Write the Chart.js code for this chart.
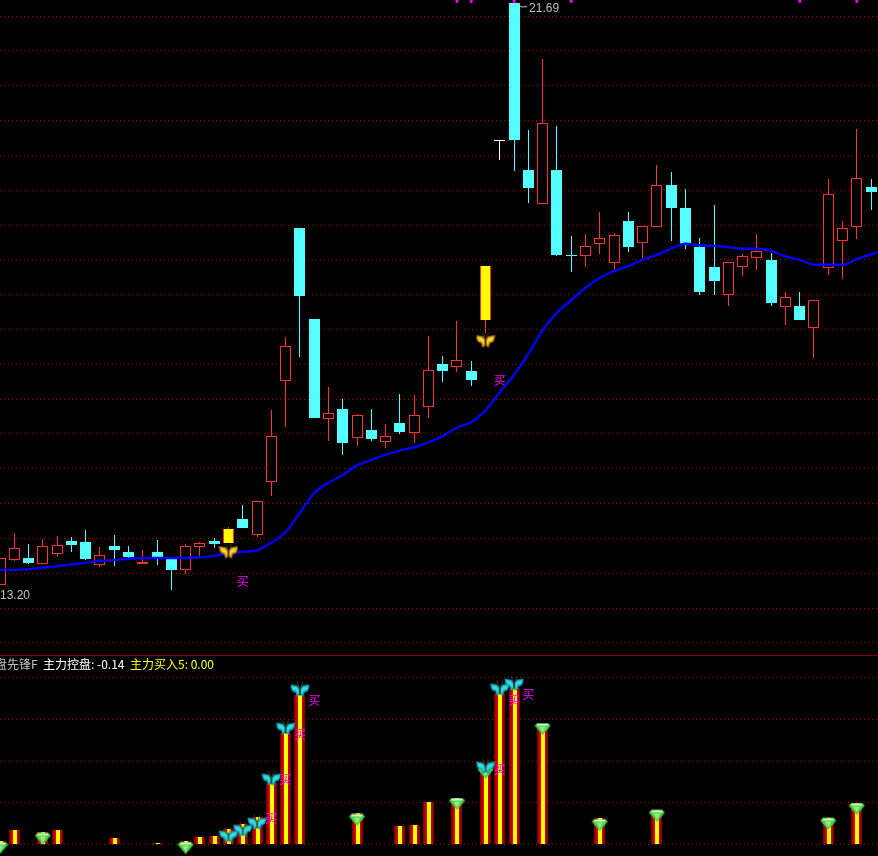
<!DOCTYPE html>
<html>
<head>
<meta charset="utf-8">
<title>主力控盘</title>
<script src="https://cdn.jsdelivr.net/npm/chart.js@4"></script>
<style>
  html, body { margin: 0; background: #000; overflow: hidden; }
  #wrap { position: relative; width: 878px; height: 856px; overflow: hidden; }
  canvas { position: absolute; left: 0; }
  #kline { top: 0; }
  #sub { top: 655px; }
  #sep { position: absolute; left: 0; top: 655px; width: 878px; height: 1px; background: #8c0000; }
</style>
</head>
<body>
<div id="wrap">
  <canvas id="kline" width="878" height="655"></canvas>
  <canvas id="sub" width="878" height="201"></canvas>
  <div id="sep"></div>
</div>
<script>
const opens = [13.33,13.69,13.72,13.63,13.78,13.96,13.95,13.62,13.89,13.81,13.63,13.81,13.71,13.55,13.88,13.96,13.94,14.28,14.05,14.81,16.26,18.46,17.15,15.72,15.86,15.44,15.56,15.38,15.66,15.51,15.89,16.50,16.46,16.40,17.14,19.71,21.69,19.29,18.80,19.29,18.06,18.05,18.23,17.95,18.56,18.24,18.47,19.07,18.74,18.18,17.90,17.50,17.90,18.03,18.00,17.32,17.34,17.02,17.88,18.27,18.47,19.05];
const highs = [13.72,14.08,13.92,13.99,14.04,14.02,14.12,13.88,14.05,13.89,13.83,13.98,13.71,13.92,13.95,14.01,14.17,14.48,14.54,15.84,16.89,18.46,17.15,16.17,16.00,15.79,15.86,15.64,16.07,16.06,16.91,16.62,17.12,16.55,17.91,19.71,21.69,19.86,20.88,19.92,18.34,18.37,18.69,18.39,18.69,18.49,19.36,19.26,19.02,18.31,18.79,17.97,18.08,18.37,18.10,17.54,17.54,17.42,19.16,18.56,19.88,19.16];
const lows = [13.33,13.68,13.63,13.63,13.73,13.81,13.69,13.59,13.60,13.72,13.63,13.62,13.26,13.49,13.75,13.86,13.94,14.15,14.02,14.61,15.60,16.60,15.73,15.40,15.20,15.33,15.40,15.30,15.50,15.37,15.73,16.25,16.39,16.19,16.95,19.43,19.27,18.82,18.80,18.05,17.83,17.90,18.08,17.85,18.11,18.03,18.47,18.27,18.16,17.50,17.50,17.34,17.77,17.85,17.34,17.06,17.14,16.59,17.78,17.72,18.30,18.72];
const closes = [13.72,13.86,13.65,13.89,13.91,13.91,13.71,13.76,13.83,13.73,13.66,13.72,13.55,13.89,13.94,13.92,14.14,14.15,14.54,15.47,16.76,17.48,15.73,15.80,15.37,15.77,15.43,15.47,15.53,15.77,16.42,16.40,16.56,16.27,17.91,19.71,19.72,19.03,19.96,18.07,18.05,18.20,18.31,18.36,18.18,18.49,19.07,18.74,18.21,17.54,17.70,17.97,18.05,18.13,17.38,17.47,17.14,17.42,18.95,18.46,19.17,18.97];
const maLine = [13.55,13.55,13.56,13.58,13.60,13.63,13.65,13.68,13.69,13.71,13.72,13.72,13.72,13.72,13.73,13.75,13.79,13.81,13.83,13.94,14.09,14.37,14.65,14.80,14.91,15.05,15.13,15.20,15.26,15.31,15.38,15.47,15.59,15.67,15.84,16.10,16.35,16.65,16.99,17.24,17.42,17.60,17.74,17.84,17.91,18.00,18.07,18.16,18.23,18.21,18.20,18.18,18.16,18.16,18.13,18.05,18.00,17.93,17.93,17.93,18.01,18.08,18.14];
const priceTicks = [12.5,13,13.5,14,14.5,15,15.5,16,16.5,17,17.5,18,18.5,19,19.5,20,20.5,21,21.5];
const yellowDays = [16,34];
const goldFlyDays = [16,34];
const goldFlyPrices = [13.81,16.84];
const topMarkDays = [32,33,36,40,56,60];
const buyDays = [17,35];
const buyPrices = [13.38,16.27];

const subDays = [0,1,3,4,8,11,13,14,15,16,17,18,19,20,21,25,28,29,30,32,34,35,36,38,42,46,58,60];
const subValues = [2.4,8.9,7.7,8.9,4.2,1.2,2.4,4.8,5.4,9.5,12.5,16.7,36.9,66.7,89.3,19.0,11.3,11.9,25.6,28.0,44.6,90.5,93.5,70.2,16.1,20.8,16.1,25.0];
const subTicks = [0,25,50,75,100];
const cyanFlyDays = [16,17,18,19,20,21,34,35,36];
const cyanFlyValues = [5.4,8.9,13.1,39.3,69.6,92.3,46.4,92.9,95.8];
const gemDays = [0,3,13,25,32,34,38,42,46,58,60];
const gemValues = [-1.8,3.6,-1.8,14.9,24.4,42.9,69.0,11.9,17.3,12.5,21.4];
const subBuyDays = [19,20,21,22,35,36,37];
const subBuyValues = [16.1,39.3,66.1,86.3,45.2,86.3,89.9];

const RED = "#ff3232";
const CYAN = "#54ffff";
const GRID = "#b00000";
const LAST_X = 878 / 14.28;

function bodyColor(i) {
  if (closes[i] > opens[i]) return RED;
  if (closes[i] < opens[i]) return CYAN;
  return "#ffffff";
}

function bodyFill(i) {
  if (yellowDays.includes(i)) return "#ffff00";
  return closes[i] > opens[i] ? "#000000" : bodyColor(i);
}

function makeButterfly(edge, inner) {
  const c = document.createElement("canvas");
  c.width = 20;
  c.height = 17;
  const g = c.getContext("2d");
  [1, -1].forEach((side) => {
    g.save();
    g.translate(10, 0);
    g.scale(side, 1);
    g.fillStyle = edge;
    g.beginPath();
    g.moveTo(0.3, 7);
    g.lineTo(3, 4);
    g.lineTo(9.5, 3);
    g.lineTo(9, 7);
    g.lineTo(7.5, 10);
    g.lineTo(4.5, 11);
    g.lineTo(3, 15.5);
    g.lineTo(0.3, 13.5);
    g.closePath();
    g.fill();
    g.fillStyle = inner;
    g.beginPath();
    g.moveTo(1.2, 8);
    g.lineTo(3.5, 5.5);
    g.lineTo(8, 4.5);
    g.lineTo(7, 8.5);
    g.lineTo(3.5, 9.5);
    g.lineTo(2.2, 13);
    g.lineTo(1.2, 12);
    g.closePath();
    g.fill();
    g.strokeStyle = "#4a4a30";
    g.lineWidth = 1;
    g.beginPath();
    g.moveTo(0.5, 7);
    g.lineTo(3, 0.5);
    g.stroke();
    g.restore();
  });
  g.fillStyle = "#2a2000";
  g.fillRect(9.5, 6, 1, 8);
  return c;
}

function makeGem() {
  const c = document.createElement("canvas");
  c.width = 17;
  c.height = 13;
  const g = c.getContext("2d");
  g.fillStyle = "#48d048";
  g.beginPath();
  g.moveTo(0.5, 3);
  g.lineTo(3, 0.5);
  g.lineTo(14, 0.5);
  g.lineTo(16.5, 3);
  g.lineTo(8.5, 12.5);
  g.closePath();
  g.fill();
  g.fillStyle = "#c8f8c0";
  g.fillRect(3, 1, 11, 2);
  g.fillStyle = "#90f088";
  g.beginPath();
  g.moveTo(5, 4);
  g.lineTo(12, 4);
  g.lineTo(8.5, 10);
  g.closePath();
  g.fill();
  return c;
}

// bars land on whole pixels, the way the terminal draws them
const snapBars = {
  id: "snapBars",
  afterDatasetsUpdate(chart) {
    chart.getSortedVisibleDatasetMetas().forEach((meta) => {
      if (meta.type !== "bar") return;
      meta.data.forEach((bar) => {
        bar.x = Math.floor(bar.x) + (bar.width % 2 ? 0.5 : 1);
        bar.y = Math.round(bar.y);
        bar.base = Math.round(bar.base);
        if (bar.base === bar.y) bar.base = bar.y + 1;
        bar.height = bar.base - bar.y;
      });
    });
  },
};

function buyLabels(id, days, values) {
  return {
    id: id,
    afterDatasetsDraw(chart) {
      const g = chart.ctx;
      g.save();
      g.fillStyle = "#ff00ff";
      g.font = '12px "Noto Sans CJK SC"';
      g.textAlign = "center";
      g.textBaseline = "middle";
      days.forEach((d, k) => {
        g.fillText("买", chart.scales.x.getPixelForValue(d), chart.scales.y.getPixelForValue(values[k]));
      });
      g.restore();
    },
  };
}

const priceNotes = {
  id: "priceNotes",
  afterDatasetsDraw(chart) {
    const g = chart.ctx;
    const x = chart.scales.x;
    const y = chart.scales.y;
    const hi = Math.max(...highs);
    const lo = 13.2;
    const hiX = x.getPixelForValue(highs.indexOf(hi)) + 2;
    const hiY = y.getPixelForValue(hi);
    g.save();
    g.strokeStyle = "#c0c0c0";
    g.fillStyle = "#c0c0c0";
    g.lineWidth = 1;
    g.beginPath();
    g.moveTo(hiX, hiY);
    g.lineTo(hiX + 5, hiY + 4);
    g.lineTo(hiX + 11, hiY + 4);
    g.stroke();
    g.font = '12px "Liberation Sans"';
    g.textBaseline = "middle";
    g.fillText(hi.toFixed(2), hiX + 13, hiY + 6);
    g.fillText(lo.toFixed(2), 0, 596);
    g.restore();
  },
};

const subTitle = {
  id: "subTitle",
  afterDatasetsDraw(chart) {
    const g = chart.ctx;
    g.save();
    g.font = '12px "Noto Sans CJK SC", "Liberation Sans"';
    g.textBaseline = "middle";
    g.fillStyle = "#c0c0c0";
    g.fillText("盘先锋F", -5, 9);
    g.fillStyle = "#ffffff";
    g.fillText("主力控盘: -0.14", 43, 9);
    g.fillStyle = "#ffff00";
    g.fillText("主力买入5: 0.00", 130, 9);
    g.restore();
  },
};

function paneOptions(min, max, ticks) {
  return {
    responsive: false,
    animation: false,
    devicePixelRatio: 1,
    events: [],
    layout: { padding: 0, autoPadding: false },
    plugins: { legend: { display: false }, tooltip: { enabled: false } },
    scales: {
      x: { type: "linear", min: 0, max: LAST_X, display: false, offset: false },
      y: {
        min: min,
        max: max,
        afterBuildTicks: (axis) => {
          axis.ticks = ticks.map((v) => ({ value: v }));
        },
        afterFit: (axis) => {
          axis.width = 0;
        },
        ticks: { display: false },
        grid: { color: GRID, lineWidth: 1, drawTicks: false },
        border: { display: false, dash: [1, 3] },
      },
    },
  };
}

function points(days, values) {
  return days.map((d, k) => ({ x: d, y: values[k] }));
}

const allDays = opens.map((_, i) => i);

new Chart(document.getElementById("kline"), {
  type: "bar",
  data: {
    datasets: [
      {
        type: "line",
        order: 0,
        data: points(goldFlyDays, goldFlyPrices),
        showLine: false,
        pointStyle: makeButterfly("#c08018", "#ffd830"),
        pointRadius: 9,
      },
      {
        type: "line",
        order: 0,
        data: points(topMarkDays, topMarkDays.map(() => 21.71)),
        showLine: false,
        pointStyle: "rect",
        pointRadius: 2,
        pointBackgroundColor: "#ff00ff",
        pointBorderWidth: 0,
        clip: false,
      },
      {
        type: "line",
        order: 1,
        data: maLine.map((v, i) => ({ x: i, y: v })),
        borderColor: "#0000ff",
        borderWidth: 2.4,
        pointRadius: 0,
        cubicInterpolationMode: "monotone",
      },
      {
        order: 2,
        data: allDays.map((i) => ({ x: i, y: [opens[i], closes[i]] })),
        barThickness: 11,
        grouped: false,
        minBarLength: 1,
        inflateAmount: 0,
        borderSkipped: false,
        backgroundColor: allDays.map(bodyFill),
        borderColor: allDays.map((i) => (yellowDays.includes(i) ? RED : bodyColor(i))),
        borderWidth: allDays.map((i) =>
          yellowDays.includes(i) ? { left: 1, right: 1, top: 0, bottom: 0 } : 1
        ),
      },
      {
        order: 3,
        data: allDays.map((i) => ({ x: i, y: [lows[i], highs[i]] })),
        barThickness: 1,
        grouped: false,
        inflateAmount: 0,
        borderWidth: 0,
        backgroundColor: allDays.map((i) => (yellowDays.includes(i) ? RED : bodyColor(i))),
      },
    ],
  },
  options: paneOptions(12.3275, 21.73, priceTicks),
  plugins: [snapBars, buyLabels("mainBuy", buyDays, buyPrices), priceNotes],
});

const stickLayers = [
  { width: 11, color: "#800000" },
  { width: 9, color: "#a00000" },
  { width: 7, color: "#c00000" },
  { width: 5, color: "#e00000" },
  { width: 4, color: "#ffff00" },
];

new Chart(document.getElementById("sub"), {
  type: "bar",
  data: {
    datasets: [
      {
        type: "line",
        order: 0,
        data: points(cyanFlyDays, cyanFlyValues),
        showLine: false,
        pointStyle: makeButterfly("#14a0b0", "#30e0e8"),
        pointRadius: 9,
      },
      {
        type: "line",
        order: 1,
        data: points(gemDays, gemValues),
        showLine: false,
        pointStyle: makeGem(),
        pointRadius: 8,
      },
    ].concat(
      stickLayers.map((layer, k) => ({
        order: 10 - k,
        data: subDays.map((d, n) => ({ x: d, y: [0, subValues[n]] })),
        barThickness: layer.width,
        grouped: false,
        inflateAmount: 0,
        borderWidth: 0,
        backgroundColor: layer.color,
      }))
    ),
  },
  options: paneOptions(-6.55, 113.1, subTicks),
  plugins: [snapBars, buyLabels("subBuy", subBuyDays, subBuyValues), subTitle],
});
</script>
</body>
</html>
